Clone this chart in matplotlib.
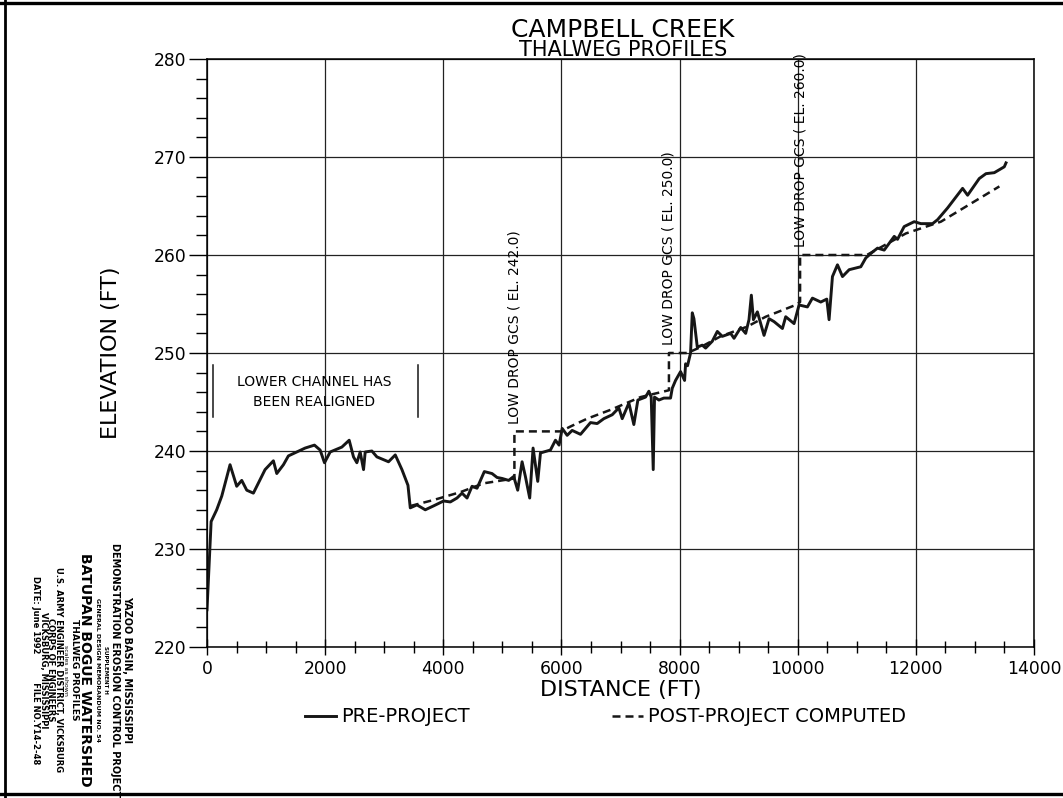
import matplotlib
matplotlib.use('Agg')
import matplotlib.pyplot as plt
from matplotlib.lines import Line2D
from matplotlib.ticker import MultipleLocator

plt.rcParams['font.family'] = ['DejaVu Sans']

# thalweg surveyed before the project (distance ft, elevation ft)
pre_x = [0, 70, 164, 250, 390, 503, 588, 673, 785, 983, 1124, 1181, 1294, 1378,
         1520, 1661, 1819, 1915, 1989, 2085, 2283, 2407, 2480, 2537, 2593, 2650,
         2678, 2791, 2876, 3073, 3187, 3300, 3402, 3441, 3554, 3695, 3836, 4006,
         4119, 4232, 4317, 4402, 4487, 4571, 4695, 4825, 4910, 4995, 5107, 5192,
         5260, 5334, 5390, 5463, 5520, 5599, 5645, 5814, 5899, 5960, 6013, 6097,
         6182, 6323, 6492, 6605, 6718, 6860, 6972, 7029, 7142, 7226, 7294, 7424,
         7480, 7520, 7554, 7576, 7650, 7734, 7847, 7876, 7932, 8017, 8085, 8102,
         8135, 8186, 8215, 8243, 8300, 8384, 8441, 8554, 8639, 8724, 8865, 8922,
         9035, 9119, 9175, 9215, 9250, 9317, 9430, 9515, 9600, 9741, 9797, 9938,
         10023, 10164, 10249, 10390, 10492, 10531, 10588, 10673, 10758, 10871,
         11068, 11153, 11266, 11351, 11464, 11549, 11634, 11690, 11802, 11972,
         12085, 12283, 12367, 12537, 12791, 12876, 13073, 13187, 13328, 13497, 13526]
pre_y = [223.8, 232.8, 234.0, 235.4, 238.6, 236.4, 237.0, 236.0, 235.7, 238.1,
         239.0, 237.7, 238.6, 239.5, 239.9, 240.3, 240.6, 240.1, 238.8, 239.9,
         240.4, 241.1, 239.4, 238.8, 239.9, 238.1, 239.9, 240.0, 239.4, 238.9,
         239.6, 238.1, 236.5, 234.2, 234.5, 234.0, 234.4, 234.9, 234.8, 235.2,
         235.7, 235.2, 236.4, 236.2, 237.9, 237.7, 237.3, 237.2, 237.0, 237.4,
         236.0, 238.9, 237.4, 235.2, 240.3, 236.9, 239.8, 240.1, 241.1, 240.6,
         242.3, 241.6, 242.1, 241.7, 242.9, 242.8, 243.3, 243.7, 244.4, 243.3,
         244.9, 242.7, 245.2, 245.5, 246.1, 245.5, 238.1, 245.5, 245.2, 245.4,
         245.4, 246.4, 247.2, 248.1, 247.2, 248.9, 248.7, 250.0, 254.1, 253.5,
         250.6, 250.8, 250.5, 251.2, 252.2, 251.7, 252.0, 251.5, 252.6, 252.0,
         253.4, 255.9, 253.4, 254.2, 251.8, 253.5, 253.2, 252.5, 253.7, 253.0,
         254.9, 254.7, 255.6, 255.2, 255.5, 253.4, 257.8, 259.0, 257.8, 258.5,
         258.8, 259.7, 260.3, 260.7, 260.5, 261.2, 261.9, 261.6, 262.9, 263.4,
         263.2, 263.2, 263.6, 264.8, 266.8, 266.1, 267.8, 268.3, 268.4, 269.0, 269.4]

# computed profile with the three grade control structures
post_x = [3450, 3836, 4288, 4683, 5204, 5204, 5990, 6153, 6436, 6831, 7339, 7820,
          7820, 8130, 8356, 8695, 9148, 9458, 9966, 10040, 10040, 11170, 11831,
          12424, 13414]
post_y = [234.4, 235.0, 235.8, 236.7, 237.2, 242.0, 242.0, 242.5, 243.3, 244.2,
          245.5, 246.2, 250.0, 250.0, 250.6, 251.7, 252.7, 253.7, 254.9, 255.2,
          260.0, 260.0, 262.2, 263.4, 267.0]

gcs_x = [5204, 7820, 10040]
gcs_el = [242.0, 250.0, 260.0]

realigned_x = [107, 3571]
realigned_y = [243.5, 248.8]

x_ticks = [0, 2000, 4000, 6000, 8000, 10000, 12000, 14000]
y_ticks = [220, 230, 240, 250, 260, 270, 280]

W, H = 1063, 798
fig = plt.figure(figsize=(W / 100, H / 100), dpi=100)
ax = fig.add_axes([207 / W, 1 - 647 / H, 827 / W, 588 / H])

ax.plot(pre_x, pre_y, color='#161616', lw=2.1, label='PRE-PROJECT')
ax.plot(post_x, post_y, color='#161616', lw=1.8, dashes=(3.2, 2.0),
        label='POST-PROJECT COMPUTED')

for gx, el in zip(gcs_x, gcs_el):
    ax.text(gx, el + 0.8, 'LOW DROP GCS ( EL. %.1f)' % el, rotation=90,
            ha='center', va='bottom', fontsize=10)

# reach that was realigned
for rx in realigned_x:
    ax.plot([rx, rx], realigned_y, color='#161616', lw=1.1)
ax.text(sum(realigned_x) / 2 - 30, 246.0, 'LOWER CHANNEL HAS\nBEEN REALIGNED',
        ha='center', va='center', fontsize=10, linespacing=1.55)

ax.set_xlim(x_ticks[0], x_ticks[-1])
ax.set_ylim(y_ticks[0], y_ticks[-1])
ax.set_xticks(x_ticks)
ax.set_yticks(y_ticks)
ax.xaxis.set_minor_locator(MultipleLocator(500))
ax.yaxis.set_minor_locator(MultipleLocator(2))
ax.grid(which='major', color='#222222', lw=0.9)
ax.tick_params(axis='y', which='major', direction='out', length=13, width=1, pad=2, labelsize=12.3)
ax.tick_params(axis='y', which='minor', direction='out', length=8, width=1)
ax.tick_params(axis='x', which='major', direction='inout', length=12, width=1, pad=3, labelsize=12.3)
ax.tick_params(axis='x', which='minor', direction='inout', length=9, width=1)
for s in ax.spines.values():
    s.set_linewidth(1.1)

ax.set_xlabel('DISTANCE (FT)', fontsize=16)
ax.xaxis.set_label_coords(0.5, -0.056)
ax.set_ylabel('ELEVATION (FT)', fontsize=16)
ax.yaxis.set_label_coords(-0.104, 0.5)

fig.text(623 / W, 1 - 30 / H, 'CAMPBELL CREEK', ha='center', va='center', fontsize=18)
fig.text(623 / W, 1 - 50 / H, 'THALWEG PROFILES', ha='center', va='center', fontsize=15)

ax.legend(loc='center left', bbox_to_anchor=(305 / W, 1 - 717 / H),
          bbox_transform=fig.transFigure, ncol=2, frameon=False, fontsize=14,
          handlelength=1.6, handletextpad=0.25, columnspacing=7.3,
          borderpad=0, borderaxespad=0)

# title block along the lower left edge
block = [
    ('YAZOO BASIN, MISSISSIPPI', 127, 7, 'bold'),
    ('DEMONSTRATION EROSION CONTROL PROJECT', 115, 7, 'bold'),
    ('SUPPLEMENT H', 106, 4, 'bold'),
    ('GENERAL DESIGN MEMORANDUM NO. 54', 97, 4.5, 'bold'),
    ('BATUPAN BOGUE WATERSHED', 85, 10, 'bold'),
    ('THALWEG PROFILES', 74, 6.5, 'bold'),
    ('scales as shown', 66, 4.5, 'normal'),
    ('U.S. ARMY ENGINEER DISTRICT, VICKSBURG', 58, 6, 'bold'),
    ('CORPS OF ENGINEERS', 50, 6, 'bold'),
    ('VICKSBURG, MISSISSIPPI', 43, 6, 'bold'),
    ('DATE: June 1992          FILE NO.Y14-2-48', 35, 6, 'bold'),
]
for txt, px, size, weight in block:
    fig.text(px / W, 1 - 670 / H, txt, rotation=270, ha='center', va='center',
             fontsize=size, fontweight=weight)

# sheet border
fig.add_artist(Line2D([0, 1], [1 - 3 / H, 1 - 3 / H], transform=fig.transFigure, color='k', lw=2.4))
fig.add_artist(Line2D([0, 1], [1 - 794 / H, 1 - 794 / H], transform=fig.transFigure, color='k', lw=2.4))
fig.add_artist(Line2D([5 / W, 5 / W], [0, 1], transform=fig.transFigure, color='k', lw=2.0))

fig.savefig('out.png', dpi=100)
